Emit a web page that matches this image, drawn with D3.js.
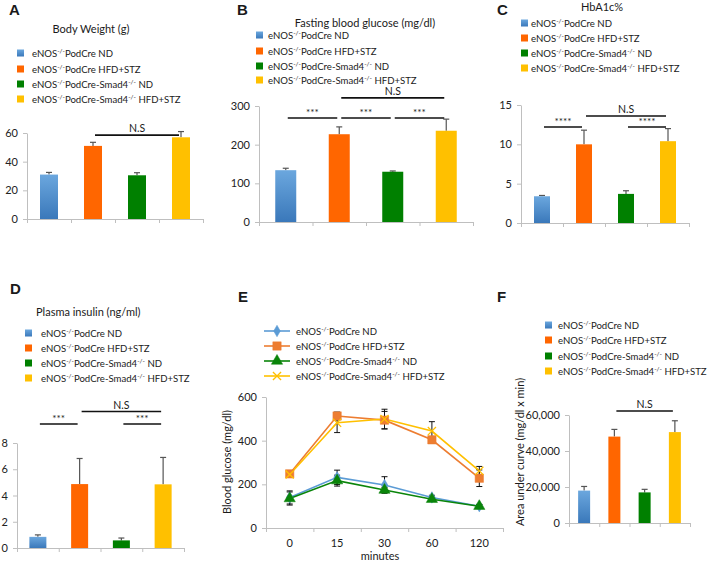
<!DOCTYPE html>
<html lang="en">
<head>
<meta charset="utf-8">
<style>
    body { margin: 0; background: #fff; }
    svg text { font-family: Lato, "Open Sans", sans-serif; fill: #1a1a1a; }
    .letter { font-family: "Liberation Sans", Arial, sans-serif; font-weight: bold; font-size: 15px; }
    .axis path, .axis line { stroke: #bfbfbf; }
    .axis text { font-family: Lato, sans-serif; font-size: 11px; fill: #222; }
</style>
<script src="https://d3js.org/d3.v7.min.js"></script>
</head>
<body>
<svg width="708" height="562"></svg>
<script>
    // groups (^...^ marks superscript)
    var groups = ["eNOS^-/-^PodCre ND", "eNOS^-/-^PodCre HFD+STZ",
                  "eNOS^-/-^PodCre-Smad4^-/-^ ND", "eNOS^-/-^PodCre-Smad4^-/-^ HFD+STZ"];
    var barColors = ["#5b9bd5", "#ff6600", "#008000", "#ffc000"];
    var lineColors = ["#5b9bd5", "#ed7d31", "#0a850a", "#ffc000"];

    var bodyWeight = [31, 51, 30.5, 57];
    var bodyWeightErr = [1.5, 2.5, 1.8, 4];
    var bodyWeightTicks = [0, 20, 40, 60];

    var glucose = [134, 227, 130, 236];
    var glucoseErr = [5, 19, 2, 30];
    var glucoseTicks = [0, 100, 200, 300];

    var hba1c = [3.4, 10, 3.7, 10.4];
    var hba1cErr = [0.1, 1.8, 0.4, 1.6];
    var hba1cTicks = [0, 5, 10, 15];

    var insulin = [0.85, 4.87, 0.58, 4.85];
    var insulinErr = [0.15, 1.95, 0.18, 2.05];
    var insulinTicks = [0, 2, 4, 6, 8];

    var auc = [18000, 48000, 17000, 50500];
    var aucErr = [2300, 4000, 1700, 6300];
    var aucTicks = [0, 20000, 40000, 60000];

    var minutes = ["0", "15", "30", "60", "120"];
    var gttND = [140, 232, 197, 140, 100];
    var gttNDErr = [30, 33, 38, 10, 8];
    var gttHFD = [248, 513, 494, 404, 228];
    var gttHFDErr = [10, 18, 40, 15, 38];
    var gttSmadND = [135, 217, 174, 132, 100];
    var gttSmadNDErr = [30, 25, 12, 8, 8];
    var gttSmadHFD = [245, 482, 499, 444, 262];
    var gttSmadHFDErr = [10, 45, 45, 43, 20];
    var gttTicks = [0, 200, 400, 600];

    var svg = d3.select("svg");

    var grad = svg.append("defs").append("linearGradient")
        .attr("id", "blueGrad").attr("x1", 0).attr("y1", 0).attr("x2", 0).attr("y2", 1);
    grad.append("stop").attr("offset", "0%").attr("stop-color", "#6ba7de");
    grad.append("stop").attr("offset", "100%").attr("stop-color", "#3a78ba");

    function richText(t, str, size) {
        var parts = str.split("^");
        var cur = 0;
        parts.forEach(function(p, i) {
            if (p === "") return;
            var sup = i % 2 == 1;
            var target = sup ? -3.5 : 0;
            t.append("tspan")
             .attr("font-size", sup ? 6.5 : size)
             .attr("dy", target - cur)
             .text(p);
            cur = target;
        });
    }

    function letter(txt, x, y) {
        svg.append("text").attr("class", "letter").attr("x", x).attr("y", y).text(txt);
    }

    function squareLegend(x, tx, rows) {
        groups.forEach(function(g, i) {
            svg.append("rect")
               .attr("x", x).attr("y", rows[i] - 3.5)
               .attr("width", 7).attr("height", 7)
               .attr("fill", i == 0 ? "url(#blueGrad)" : barColors[i]);
            var t = svg.append("text").attr("x", tx).attr("y", rows[i] + 3.5);
            richText(t, g, 9.6);
        });
    }

    function barPanel(o) {
        var x = d3.scaleBand().domain(d3.range(4)).range([o.left, o.right]);
        var y = d3.scaleLinear().domain([0, o.max]).range([o.bottom, o.top]);
        var xb = d3.scaleLinear().domain([0, 4]).range([o.left, o.right]);

        svg.append("g").attr("class", "axis")
           .attr("transform", "translate(" + o.left + ",0)")
           .call(d3.axisLeft(y).tickValues(o.ticks).tickSize(4).tickSizeOuter(0).tickPadding(5));
        svg.append("g").attr("class", "axis")
           .attr("transform", "translate(0," + o.bottom + ")")
           .call(d3.axisBottom(xb).tickValues([0, 1, 2, 3, 4]).tickFormat("").tickSize(4).tickSizeOuter(0));

        var cx = function(i) { return x(i) + x.bandwidth() / 2; };

        // error bars (upper only)
        o.values.forEach(function(v, i) {
            svg.append("line")
               .attr("x1", cx(i)).attr("x2", cx(i))
               .attr("y1", y(v)).attr("y2", y(v + o.errs[i]))
               .attr("stroke", "#555").attr("stroke-width", 1.2);
            svg.append("line")
               .attr("x1", cx(i) - 3).attr("x2", cx(i) + 3)
               .attr("y1", y(v + o.errs[i])).attr("y2", y(v + o.errs[i]))
               .attr("stroke", "#555").attr("stroke-width", 1.2);
        });

        svg.selectAll(null).data(o.values).enter().append("rect")
           .attr("x", function(d, i) { return cx(i) - o.barW / 2; })
           .attr("y", function(d) { return y(d); })
           .attr("width", o.barW)
           .attr("height", function(d) { return o.bottom - y(d); })
           .attr("fill", function(d, i) { return i == 0 ? "url(#blueGrad)" : barColors[i]; });

        (o.sig || []).forEach(function(s) {
            var x1 = cx(s[0]) + 2, x2 = cx(s[1]) - 2, yy = y(s[2]);
            svg.append("line").attr("x1", x1).attr("x2", x2).attr("y1", yy).attr("y2", yy)
               .attr("stroke", "#111").attr("stroke-width", 1.6);
            var star = s[3].indexOf("*") >= 0;
            svg.append("text")
               .attr("x", (x1 + x2) / 2).attr("y", yy - (star ? 2 : 3))
               .attr("text-anchor", "middle")
               .attr("font-size", star ? 10 : 10.5)
               .text(s[3]);
        });
        return y;
    }

    // ---- A ----
    letter("A", 9, 15);
    svg.append("text").attr("x", 91).attr("y", 33).attr("text-anchor", "middle")
       .attr("font-size", 11).text("Body Weight (g)");
    squareLegend(17, 32, [53, 69, 84, 99]);
    barPanel({ left: 27, right: 203, top: 133, bottom: 219, max: 60, ticks: bodyWeightTicks,
               values: bodyWeight, errs: bodyWeightErr, barW: 18,
               sig: [[1, 3, 58.5, "N.S"]] });

    // ---- B ----
    letter("B", 237, 15);
    svg.append("text").attr("x", 365).attr("y", 27).attr("text-anchor", "middle")
       .attr("font-size", 11).text("Fasting blood glucose (mg/dl)");
    squareLegend(256, 268, [35, 51, 66, 80]);
    barPanel({ left: 259, right: 473, top: 106, bottom: 222, max: 300, ticks: glucoseTicks,
               values: glucose, errs: glucoseErr, barW: 21,
               sig: [[0, 1, 269, "***"], [1, 2, 269, "***"], [2, 3, 269, "***"], [1, 3, 321, "N.S"]] });

    // ---- C ----
    letter("C", 497, 15);
    svg.append("text").attr("x", 602).attr("y", 11).attr("text-anchor", "middle")
       .attr("font-size", 11).text("HbA1c%");
    squareLegend(521, 531, [23, 38, 53, 68]);
    barPanel({ left: 521, right: 689, top: 105, bottom: 223, max: 15, ticks: hba1cTicks,
               values: hba1c, errs: hba1cErr, barW: 16,
               sig: [[0, 1, 12.2, "****"], [2, 3, 12.2, "****"], [1, 3, 13.6, "N.S"]] });

    // ---- D ----
    letter("D", 10, 294);
    svg.append("text").attr("x", 36).attr("y", 316)
       .attr("font-size", 11).text("Plasma insulin (ng/ml)");
    squareLegend(25, 41, [333, 348, 363, 378]);
    barPanel({ left: 17, right: 184, top: 443, bottom: 548, max: 8, ticks: insulinTicks,
               values: insulin, errs: insulinErr, barW: 17,
               sig: [[0, 1, 9.45, "***"], [2, 3, 9.45, "***"], [1, 3, 10.4, "N.S"]] });

    // ---- F ----
    letter("F", 497, 302);
    squareLegend(545, 558, [325, 340, 356, 371]);
    barPanel({ left: 569, right: 690, top: 415, bottom: 523, max: 60000, ticks: aucTicks,
               values: auc, errs: aucErr, barW: 12,
               sig: [[1, 3, 62200, "N.S"]] });
    svg.append("text")
       .attr("transform", "translate(524,452) rotate(-90)")
       .attr("text-anchor", "middle").attr("font-size", 11)
       .text("Area under curve (mg/dl x min)");

    // ---- E ----
    letter("E", 238, 302);
    var ex = d3.scaleBand().domain(minutes).range([266, 503]);
    var ey = d3.scaleLinear().domain([0, 600]).range([528, 397]);
    var exb = d3.scaleLinear().domain([0, 5]).range([266, 503]);

    svg.append("g").attr("class", "axis")
       .attr("transform", "translate(266,0)")
       .call(d3.axisLeft(ey).tickValues(gttTicks).tickSize(4).tickSizeOuter(0).tickPadding(5));
    svg.append("g").attr("class", "axis")
       .attr("transform", "translate(0,528)")
       .call(d3.axisBottom(exb).tickValues(d3.range(6)).tickFormat("").tickSize(4).tickSizeOuter(0));
    svg.selectAll(null).data(minutes).enter().append("text")
       .attr("x", function(d) { return ex(d) + ex.bandwidth() / 2; })
       .attr("y", 547).attr("text-anchor", "middle").attr("font-size", 11).text(function(d) { return d; });
    svg.append("text").attr("x", 380).attr("y", 560).attr("text-anchor", "middle")
       .attr("font-size", 11).text("minutes");
    svg.append("text")
       .attr("transform", "translate(231,462) rotate(-90)")
       .attr("text-anchor", "middle").attr("font-size", 11)
       .text("Blood glucose (mg/dl)");

    var series = [
        { v: gttND, e: gttNDErr, sym: d3.symbolDiamond, size: 38 },
        { v: gttHFD, e: gttHFDErr, sym: d3.symbolSquare, size: 70 },
        { v: gttSmadND, e: gttSmadNDErr, sym: d3.symbolTriangle, size: 55 },
        { v: gttSmadHFD, e: gttSmadHFDErr, sym: d3.symbolX, size: 45 }
    ];
    var px = function(i) { return ex(minutes[i]) + ex.bandwidth() / 2; };

    function marker(g, s, c, x, y) {
        var isX = s.sym === d3.symbolX;
        g.append("path")
         .attr("d", d3.symbol().type(s.sym).size(s.size)())
         .attr("transform", "translate(" + x + "," + y + ")")
         .attr("fill", isX ? "none" : c)
         .attr("stroke", c).attr("stroke-width", isX ? 1.3 : 0.5);
    }

    series.forEach(function(s, k) {
        var line = d3.line().x(function(d, i) { return px(i); }).y(function(d) { return ey(d); });
        svg.append("path").datum(s.v).attr("d", line)
           .attr("fill", "none").attr("stroke", lineColors[k]).attr("stroke-width", 1.6);
    });
    series.forEach(function(s, k) {
        s.v.forEach(function(v, i) {
            var g = svg.append("g").attr("stroke", "#111").attr("stroke-width", 1);
            g.append("line").attr("x1", px(i)).attr("x2", px(i))
             .attr("y1", ey(v - s.e[i])).attr("y2", ey(v + s.e[i]));
            [v - s.e[i], v + s.e[i]].forEach(function(w) {
                g.append("line").attr("x1", px(i) - 3).attr("x2", px(i) + 3)
                 .attr("y1", ey(w)).attr("y2", ey(w));
            });
        });
    });
    series.forEach(function(s, k) {
        s.v.forEach(function(v, i) { marker(svg, s, lineColors[k], px(i), ey(v)); });
    });

    // E legend
    [331, 346, 361, 376].forEach(function(ry, k) {
        svg.append("line").attr("x1", 264).attr("x2", 290).attr("y1", ry).attr("y2", ry)
           .attr("stroke", lineColors[k]).attr("stroke-width", 1.6);
        marker(svg, series[k], lineColors[k], 277, ry);
        var t = svg.append("text").attr("x", 296).attr("y", ry + 3.5);
        richText(t, groups[k], 9.6);
    });
</script>
</body>
</html>
